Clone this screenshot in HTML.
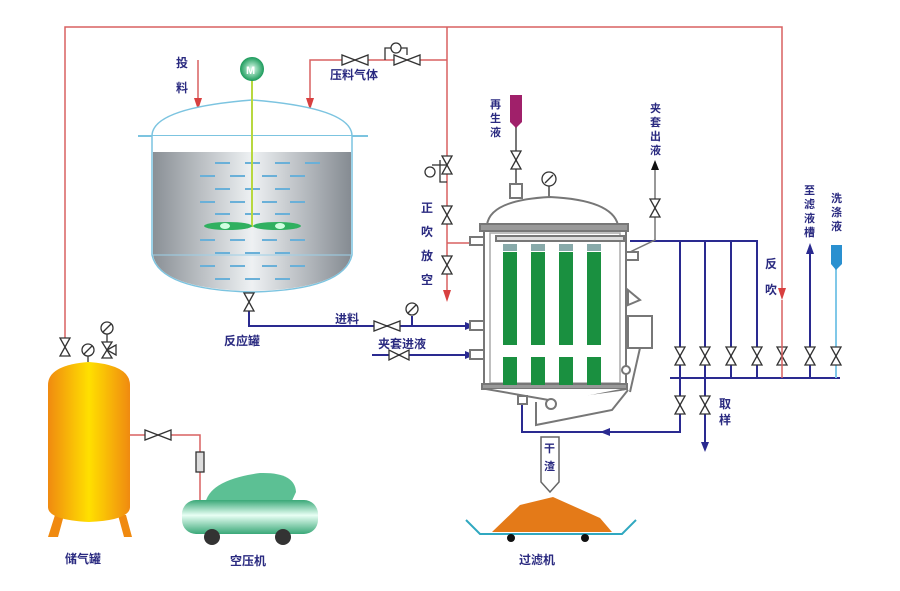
<!DOCTYPE html>
<html><head><meta charset="utf-8"><style>
html,body{margin:0;padding:0;background:#fff;}
svg{display:block;}
text{font-family:"Liberation Sans","Noto Sans CJK SC",sans-serif;font-size:12px;fill:#2a2a80;font-weight:bold;}
</style></head><body>
<svg width="900" height="591" viewBox="0 0 900 591" xmlns="http://www.w3.org/2000/svg">
<defs>
<linearGradient id="liq" x1="0" x2="1" y1="0" y2="0">
<stop offset="0" stop-color="#8a9096"/><stop offset="0.5" stop-color="#eef1f3"/><stop offset="1" stop-color="#858b92"/></linearGradient>
<linearGradient id="org" x1="0" x2="1"><stop offset="0" stop-color="#f08a10"/><stop offset="0.5" stop-color="#ffe000"/><stop offset="1" stop-color="#f08a10"/></linearGradient>
<linearGradient id="grn" x1="0" x2="0" y1="0" y2="1"><stop offset="0" stop-color="#3aa878"/><stop offset="0.45" stop-color="#e8fff4"/><stop offset="1" stop-color="#3aa878"/></linearGradient>
<radialGradient id="mot"><stop offset="0" stop-color="#e0fff0"/><stop offset="1" stop-color="#1a9a5a"/></radialGradient>
</defs>

<g stroke="#d86060" stroke-width="1.5" fill="none">
<polyline points="65,340 65,27 782,27 782,296"/>
<line x1="447" y1="27" x2="447" y2="296"/>
<polyline points="447,60 310,60 310,105"/>
<line x1="198" y1="60" x2="198" y2="105"/>
<line x1="447" y1="243" x2="482" y2="243"/>
<polyline points="130,435 200,435 200,500"/>
</g>
<g fill="#d84040">
<polygon points="194,98 202,98 198,110"/><polygon points="306,98 314,98 310,110"/>
<polygon points="443,290 451,290 447,302"/><polygon points="778,288 786,288 782,300"/>
</g>
<g fill="#fff" stroke="#333" stroke-width="1.3">
<polygon points="342,55 342,65 355,60 368,55 368,65 355,60"/>
<polygon points="394,55 394,65 407,60 420,55 420,65 407,60"/>
<polyline points="385,60 385,48 407,48 407,55" fill="none"/>
<circle cx="396" cy="48" r="5"/>
</g>

<path d="M152,136 Q152,108 252,100 Q352,108 352,136 Z" fill="#fff" stroke="#7cc4e0" stroke-width="1.5"/>
<line x1="138" y1="136" x2="368" y2="136" stroke="#7cc4e0" stroke-width="2"/>
<path d="M152,136 L152,255 Q160,290 252,292 Q344,290 352,255 L352,136" fill="#fff" stroke="#7cc4e0" stroke-width="1.5"/>
<path d="M153,152 L351,152 L351,255 Q344,289 252,291 Q160,289 153,255 Z" fill="url(#liq)"/>
<line x1="153" y1="255" x2="351" y2="255" stroke="#9cd0e8" stroke-width="1"/>
<g stroke="#6ab0d8" stroke-width="2">
<line x1="215" y1="163" x2="230" y2="163"/><line x1="245" y1="163" x2="260" y2="163"/><line x1="275" y1="163" x2="290" y2="163"/><line x1="305" y1="163" x2="320" y2="163"/>
<line x1="200" y1="176" x2="215" y2="176"/><line x1="230" y1="176" x2="245" y2="176"/><line x1="262" y1="176" x2="277" y2="176"/><line x1="290" y1="176" x2="305" y2="176"/>
<line x1="215" y1="189" x2="230" y2="189"/><line x1="245" y1="189" x2="260" y2="189"/><line x1="275" y1="189" x2="290" y2="189"/>
<line x1="200" y1="202" x2="215" y2="202"/><line x1="230" y1="202" x2="245" y2="202"/><line x1="262" y1="202" x2="277" y2="202"/><line x1="290" y1="202" x2="305" y2="202"/>
<line x1="215" y1="214" x2="230" y2="214"/><line x1="245" y1="214" x2="260" y2="214"/><line x1="275" y1="214" x2="290" y2="214"/>
<line x1="200" y1="240" x2="215" y2="240"/><line x1="230" y1="240" x2="245" y2="240"/><line x1="262" y1="240" x2="277" y2="240"/><line x1="290" y1="240" x2="305" y2="240"/>
<line x1="215" y1="253" x2="230" y2="253"/><line x1="245" y1="253" x2="260" y2="253"/><line x1="275" y1="253" x2="290" y2="253"/>
<line x1="200" y1="266" x2="215" y2="266"/><line x1="230" y1="266" x2="245" y2="266"/><line x1="262" y1="266" x2="277" y2="266"/><line x1="290" y1="266" x2="305" y2="266"/>
<line x1="215" y1="279" x2="230" y2="279"/><line x1="245" y1="279" x2="260" y2="279"/><line x1="275" y1="279" x2="290" y2="279"/>
</g>
<line x1="252" y1="78" x2="252" y2="227" stroke="#b8d840" stroke-width="2"/>
<ellipse cx="228" cy="226" rx="24" ry="4" fill="#30b060"/><ellipse cx="277" cy="226" rx="24" ry="4" fill="#30b060"/>
<ellipse cx="225" cy="226" rx="5" ry="3" fill="#d0ffe0"/><ellipse cx="280" cy="226" rx="5" ry="3" fill="#d0ffe0"/>
<circle cx="252" cy="69" r="12" fill="url(#mot)"/>
<text x="246" y="74" style="fill:#fff;font-size:11px">M</text>

<g stroke="#2a2a90" stroke-width="2" fill="none">
<polyline points="249,308 249,326 470,326"/>
<line x1="372" y1="355" x2="470" y2="355"/>
<line x1="412" y1="316" x2="412" y2="326"/>
<polyline points="630,241 680,241 680,378"/>
<polyline points="680,241 705,241 705,378"/><polyline points="705,241 731,241 731,378"/><polyline points="731,241 757,241 757,378"/>
<line x1="810" y1="250" x2="810" y2="378"/>
<line x1="670" y1="378" x2="840" y2="378"/>
<line x1="705" y1="378" x2="705" y2="445"/>
<polyline points="680,378 680,432 522,432 522,402"/>
</g>
<line x1="836" y1="265" x2="836" y2="378" stroke="#80c8e8" stroke-width="2"/>
<g fill="#2a2a90"><polygon points="465,322 475,326 465,330"/><polygon points="465,351 475,355 465,359"/>
<polygon points="806,254 814,254 810,243"/><polygon points="701,442 709,442 705,452"/><polygon points="610,428 600,432 610,436"/></g>
<g fill="#fff" stroke="#333" stroke-width="1.3">
<polygon points="244,293 254,293 249,302 244,311 254,311 249,302"/>
<polygon points="374,321 374,331 387,326 400,321 400,331 387,326"/>
<polygon points="389,350 389,360 399,355 409,350 409,360 399,355"/>
<circle cx="412" cy="309" r="6"/><line x1="408" y1="313" x2="416" y2="305"/>
</g>

<g fill="#fff" stroke="#333" stroke-width="1.3">
<polygon points="442,156 452,156 447,165 442,174 452,174 447,165"/>
<polyline points="447,165 432,165" fill="none"/><circle cx="430" cy="172" r="5"/>
<polyline points="440,160 440,182 447,182" fill="none"/>
<polygon points="442,206 452,206 447,215 442,224 452,224 447,215"/>
<polygon points="442,256 452,256 447,265 442,274 452,274 447,265"/>
</g>

<g stroke="#777" stroke-width="2" fill="#fff">
<line x1="516" y1="115" x2="516" y2="198"/>
<rect x="510" y="184" width="12" height="14"/>
<line x1="549" y1="186" x2="549" y2="198"/>
<path d="M487,225 Q490,200 550,197 Q612,200 618,225 Z"/>
<rect x="480" y="224" width="148" height="7" fill="#999"/>
<rect x="484" y="231" width="142" height="155"/>
<rect x="490" y="233" width="130" height="150" fill="#fff" stroke="#aaa" stroke-width="1.5"/>
<rect x="496" y="236" width="128" height="5" fill="#ddd"/>
<rect x="470" y="237" width="14" height="8" fill="#fff"/>
<rect x="470" y="321" width="14" height="9"/><rect x="470" y="350" width="14" height="9"/>
<rect x="626" y="252" width="12" height="8"/>
<rect x="482" y="384" width="145" height="5" fill="#999"/>
<path d="M486,389 L560,402 L626,389"/>
<rect x="518" y="396" width="9" height="8"/>
<path d="M536,402 L536,425 L612,410 L628,390"/>
<path d="M628,290 L640,300 L628,305 Z"/>
<rect x="628" y="316" width="24" height="32"/>
<line x1="640" y1="348" x2="630" y2="392"/>
<circle cx="551" cy="404" r="5"/><circle cx="626" cy="370" r="4"/>
</g>
<g fill="#1a9040">
<rect x="503" y="252" width="14" height="93"/><rect x="531" y="252" width="14" height="93"/><rect x="559" y="252" width="14" height="93"/><rect x="587" y="252" width="14" height="93"/>
<rect x="503" y="357" width="14" height="28"/><rect x="531" y="357" width="14" height="28"/><rect x="559" y="357" width="14" height="28"/><rect x="587" y="357" width="14" height="28"/>
</g>
<g fill="#8aa"><rect x="503" y="244" width="14" height="7"/><rect x="531" y="244" width="14" height="7"/><rect x="559" y="244" width="14" height="7"/><rect x="587" y="244" width="14" height="7"/></g>
<g fill="#fff" stroke="#333" stroke-width="1.3">
<circle cx="549" cy="179" r="7"/><line x1="545" y1="183" x2="553" y2="175"/>
<polygon points="511,151 521,151 516,160 511,169 521,169 516,160"/>
</g>
<path d="M510,95 L522,95 L522,122 L516,128 L510,122 Z" fill="#a0206a"/>
<polyline points="655,168 655,240 630,252" fill="none" stroke="#777" stroke-width="1.5"/>
<polygon points="651,170 659,170 655,160" fill="#111"/>
<g fill="#fff" stroke="#333" stroke-width="1.3">
<polygon points="650,199 660,199 655,208 650,217 660,217 655,208"/>
</g>
<g fill="#fff" stroke="#333" stroke-width="1.3">
<polygon points="675,347 685,347 680,356 675,365 685,365 680,356"/>
<polygon points="700,347 710,347 705,356 700,365 710,365 705,356"/>
<polygon points="726,347 736,347 731,356 726,365 736,365 731,356"/>
<polygon points="752,347 762,347 757,356 752,365 762,365 757,356"/>
<polygon points="777,347 787,347 782,356 777,365 787,365 782,356"/>
<polygon points="805,347 815,347 810,356 805,365 815,365 810,356"/>
<polygon points="831,347 841,347 836,356 831,365 841,365 836,356"/>
<polygon points="675,396 685,396 680,405 675,414 685,414 680,405"/>
<polygon points="700,396 710,396 705,405 700,414 710,414 705,405"/>
</g>
<line x1="782" y1="300" x2="782" y2="378" stroke="#d86060" stroke-width="1.5"/>
<path d="M831,245 L842,245 L842,264 L836,270 L831,264 Z" fill="#2a90d0"/>
<path d="M541,437 L559,437 L559,482 L550,492 L541,482 Z" fill="#fff" stroke="#666" stroke-width="1.5"/>
<path d="M492,532 L520,505 L553,497 L600,518 L612,532 Z" fill="#e47a18"/>
<polyline points="466,520 480,534 622,534 636,520" fill="none" stroke="#30a8c0" stroke-width="2"/>
<circle cx="511" cy="538" r="4" fill="#111"/><circle cx="585" cy="538" r="4" fill="#111"/>

<path d="M55,515 L48,537 L58,537 L64,515 Z M118,515 L124,537 L132,537 L126,515 Z" fill="#f08a10"/>
<path d="M48,385 Q48,365 89,362 Q130,365 130,385 L130,507 Q130,520 89,522 Q48,520 48,507 Z" fill="url(#org)"/>
<g fill="#fff" stroke="#333" stroke-width="1.3">
<polygon points="60,338 70,338 65,347 60,356 70,356 65,347"/>
<line x1="88" y1="356" x2="88" y2="362"/><circle cx="88" cy="350" r="6"/><line x1="84" y1="354" x2="92" y2="346"/>
<circle cx="107" cy="328" r="6"/><line x1="103" y1="332" x2="111" y2="324"/>
<polygon points="102,342 112,342 107,350 102,358 112,358 107,350"/><polygon points="107,350 116,345 116,355"/>
<line x1="107" y1="334" x2="107" y2="342"/>
<polygon points="145,430 145,440 158,435 171,430 171,440 158,435"/>
<rect x="196" y="452" width="8" height="20" fill="#ddd"/>
</g>
<path d="M205,505 Q208,480 260,473 Q295,472 296,492 L290,505 Z" fill="#5cc094"/>
<rect x="182" y="500" width="136" height="34" rx="14" fill="url(#grn)"/>
<circle cx="212" cy="537" r="8" fill="#333"/><circle cx="283" cy="537" r="8" fill="#333"/>

<text x="176" y="67">投</text><text x="176" y="92">料</text>
<text x="330" y="79">压料气体</text>
<text x="224" y="345">反应罐</text>
<text x="335" y="323">进料</text>
<text x="378" y="348">夹套进液</text>
<text x="421" y="212">正</text><text x="421" y="236">吹</text><text x="421" y="260">放</text><text x="421" y="284">空</text>
<text x="490" y="108" style="font-size:11px">再</text><text x="490" y="122" style="font-size:11px">生</text><text x="490" y="136" style="font-size:11px">液</text>
<text x="650" y="112" style="font-size:11px">夹</text><text x="650" y="126" style="font-size:11px">套</text><text x="650" y="140" style="font-size:11px">出</text><text x="650" y="154" style="font-size:11px">液</text>
<text x="765" y="268">反</text><text x="765" y="294">吹</text>
<text x="804" y="194" style="font-size:11px">至</text><text x="804" y="208" style="font-size:11px">滤</text><text x="804" y="222" style="font-size:11px">液</text><text x="804" y="236" style="font-size:11px">槽</text>
<text x="831" y="202" style="font-size:11px">洗</text><text x="831" y="216" style="font-size:11px">涤</text><text x="831" y="230" style="font-size:11px">液</text>
<text x="719" y="408">取</text><text x="719" y="424">样</text>
<text x="544" y="452" style="font-size:11px">干</text><text x="544" y="470" style="font-size:11px">渣</text>
<text x="65" y="563">储气罐</text>
<text x="230" y="565">空压机</text>
<text x="519" y="564">过滤机</text>
</svg>
</body></html>
